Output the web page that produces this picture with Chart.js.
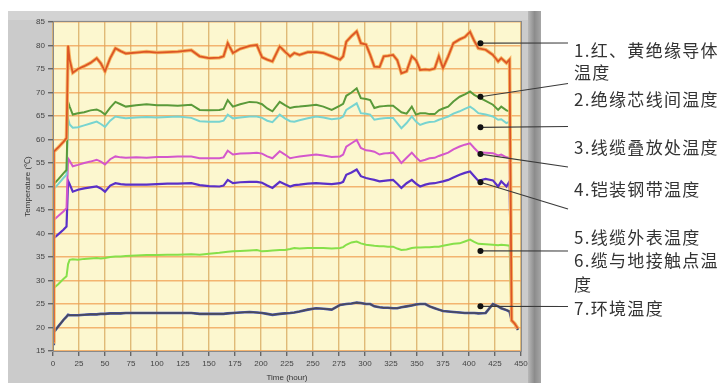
<!DOCTYPE html>
<html><head><meta charset="utf-8">
<script src="https://cdn.jsdelivr.net/npm/chart.js@4/dist/chart.umd.min.js"></script>
<style>
html,body{margin:0;padding:0;background:#fff;}
#wrap{position:relative;width:721px;height:383px;overflow:hidden;}
#c{position:absolute;left:0;top:0;}
.lbl{position:absolute;left:574px;font-family:"Noto Sans CJK SC";font-size:17px;line-height:17px;color:#333;letter-spacing:1.3px;white-space:nowrap;}
</style></head>
<body>
<div id="wrap">
<canvas id="c" width="721" height="383"></canvas>
<div class="lbl" style="top:41px">1.红、黄绝缘导体</div>
<div class="lbl" style="top:63px">温度</div>
<div class="lbl" style="top:90px">2.绝缘芯线间温度</div>
<div class="lbl" style="top:138px">3.线缆叠放处温度</div>
<div class="lbl" style="top:180px">4.铠装钢带温度</div>
<div class="lbl" style="top:228px">5.线缆外表温度</div>
<div class="lbl" style="top:251px">6.缆与地接触点温</div>
<div class="lbl" style="top:275px">度</div>
<div class="lbl" style="top:299px">7.环境温度</div>
</div>
<script>
const hours = [0,0.8,5,10,13,14.5,16,19,24,30,
 36,42,46,50,55,60,65,70,80,90,
 100,110,120,133,141,150,160,164,168,173,
 180,189,196,201,206,211,218,223,228,232,
 237,245,253,260,268,276,279,282,287,292,
 296,301,305,309,314,318,322,327,331,335,
 340,345,349,353,358,362,367,371,375,380,
 385,391,396,401,405,409,416,423,428,431,
 436,439,441,444,447];

const conductor = [17,57.4,58.3,59.5,60.3,80,77,74.2,75,75.6,
 76.3,77.3,76.2,74.5,77.3,79.4,78.8,78.3,78.5,78.7,
 78.5,78.6,78.7,79,77.7,77.3,77.4,77.7,80.5,78.4,
 79.3,79.9,80.1,77.5,77,76.6,79.8,78.7,77.7,78.4,
 78,78.6,78.6,78.4,77.7,77,77.7,80.8,82,83,
 80.5,80.2,78,75.5,75.4,77.7,77.8,78,76.9,74.1,
 74.5,77.7,76.9,74.8,74.9,74.8,75.1,77.7,75.2,77.7,
 80.5,81.3,81.8,82.9,81,79.4,79.1,78,76.6,77.3,
 76.3,77,21.5,20.8,19.8];

const coreGap = [17,50.5,51.5,52.8,53.5,68,67,65.3,65.6,65.8,
 66.2,66.4,66,65.3,66.8,68,67.5,67,67.3,67.5,
 67.3,67.3,67.2,67.4,66.3,66.2,66.3,66.5,68.4,67,
 67.5,68,67.9,67.5,66.6,66,68,67.3,66.7,66.9,
 67,67.2,67.4,67,66.3,67.2,67.6,69.3,70,70.9,
 68.8,68.6,68.4,66.7,67,67.1,67.2,67.2,66.5,65.8,
 65.5,67,65.3,65.6,65.6,65.4,65.4,66.2,66.6,67,
 68.1,69.1,69.6,70.2,69.5,69,68.2,67.4,66.3,67,
 66.2,66,21.5,20.8,19.8];

const stacked = [17,49.5,50.5,51.8,52.5,64.5,63.2,62.5,62.6,63,
 63.4,63.8,63.3,62.7,64,64.9,64.7,64.5,64.7,64.8,
 64.7,64.8,64.9,64.6,63.9,63.8,63.8,64,65.3,64.5,
 64.7,64.9,64.9,64.6,64,63.7,65.3,64.5,63.9,63.8,
 64.1,64.5,64.9,64.7,64.3,64.5,64.9,66.3,67,67.7,
 65.6,65.5,65.3,64.2,64.4,64.5,64.6,64.6,63.5,62.4,
 63.5,64.9,63.8,63.1,63.5,63.7,63.8,64.2,64.5,64.9,
 65.5,66,66.5,67,66.4,65.6,65.3,64.9,64.2,64.3,
 63.5,63.8,21.5,20.8,19.8];

const armour = [17,42.9,43.7,44.7,45.4,56,55.5,54.3,54.6,55,
 55.3,55.7,55.3,54.7,55.8,56.4,56.2,56.1,56.2,56.1,
 56.3,56.3,56.4,56.4,56,56,56,56.2,57.6,56.8,
 57,57.1,57.2,57,56.4,56,57.5,56.8,56,56.2,
 56.4,56.6,56.8,56.6,56.3,56.4,56.8,58.5,59.2,59.9,
 58.2,57.7,57.6,57.4,56.8,57,57.1,57.2,56.2,55,
 56.1,57.2,56.2,55.4,55.7,56,56.1,56.5,56.8,57.2,
 57.9,58.5,58.9,59.2,58.2,57.3,57.2,57.1,56.6,56.8,
 56.2,56.1,21.5,20.8,19.8];

const surface = [17,39,39.8,40.8,41.5,51.2,50.5,48.9,49.3,49.6,
 49.8,50,49.6,48.9,50.2,50.7,50.5,50.4,50.4,50.4,
 50.5,50.6,50.6,50.7,50.3,50.1,50,50.2,51.4,50.7,
 50.9,51,51,50.8,50.2,49.7,51,50.5,50,50.3,
 50.4,50.6,50.7,50.6,50.5,50.7,51,52.5,53,53.6,
 52.2,51.8,51.6,51.4,51.1,51.2,51.3,51.4,50.6,49.7,
 50.7,51.4,50.6,50,50.4,50.6,50.7,50.9,51.1,51.4,
 51.9,52.5,52.9,53.2,52.2,51.2,51.6,51.3,50,51.1,
 50,51.1,21.5,20.8,19.8];

const ground = [17,28.4,29.2,30.3,30.9,33.5,34.4,34.5,34.4,34.6,
 34.7,34.8,34.7,34.8,35,35.1,35.1,35.2,35.3,35.4,
 35.4,35.5,35.5,35.6,35.5,35.7,35.9,36,36.1,36.2,
 36.3,36.4,36.5,36.2,36.3,36.4,36.5,36.5,36.7,36.9,
 36.8,36.9,36.9,36.9,36.8,36.9,37.1,37.6,38.1,38.3,
 37.9,37.6,37.5,37.4,37.3,37.3,37.2,37.2,36.8,36.5,
 36.6,36.9,37,37,37.1,37.1,37.2,37.2,37.4,37.6,
 37.8,37.9,38.3,38.7,38.2,37.8,37.7,37.6,37.5,37.6,
 37.5,37.4,21.5,20.8,19.8];

const ambient = [16.5,19,20.2,21.6,22.3,22.7,22.6,22.6,22.6,22.7,
 22.8,22.8,22.9,22.9,23,23,23,23.1,23.1,23.1,
 23.1,23.1,23.1,23.1,22.9,22.9,22.9,22.9,23,23.1,
 23.2,23.3,23.2,23.1,22.9,22.7,22.9,23,23.1,23.2,
 23.4,23.8,24.1,24,23.8,24.8,24.9,25,25.1,25.3,
 25.2,25,25,24.5,24.3,24.2,24.2,24.1,24.1,24.3,
 24.5,24.7,24.9,25,25,24.5,24.1,23.8,23.5,23.4,
 23.3,23.2,23.1,23.1,23.1,23,23.1,25,24.5,24.1,
 23.7,23.4,21.5,20.8,19.5];

const xTicks = [0,25,50,75,100,125,150,175,200,225,250,275,300,325,350,375,400,425,450];
const yTicks = [15,20,25,30,35,40,45,50,55,60,65,70,75,80,85];

// callout anchor points (hour, temperature) for the 7 labels
const calloutHours = [411,411,411,411,411,411,411];
const calloutTemps = [80.5,69.1,62.6,56.9,50.9,36.3,24.5];

function pts(arr){ return hours.map((h,i)=>({x:h,y:arr[i]})); }
function ds(arr,color,w){ return {data:pts(arr),borderColor:color,borderWidth:w,pointRadius:0,tension:0,fill:false}; }

const calloutEnds = [[568,43],[568,83.5],[568,126.5],[568,167],[568,209],[568,251],[568,306.5]];

const bgPlugin = {
  id:'bg',
  beforeDraw(chart){
    const {ctx, chartArea:a} = chart;
    ctx.save();
    ctx.fillStyle='#ffffff'; ctx.fillRect(0,0,chart.width,chart.height);
    ctx.fillStyle='#cbcbcb'; ctx.fillRect(8,11,533,372);
    ctx.fillStyle='#d3d3d3'; ctx.fillRect(8,11,533,9);
    const g = ctx.createLinearGradient(528,0,541,0);
    g.addColorStop(0,'#b8b8b8'); g.addColorStop(0.5,'#8c8c8c'); g.addColorStop(1,'#a6a6a6');
    ctx.fillStyle=g; ctx.fillRect(528,11,13,372);
    ctx.fillStyle='#fcf7cf'; ctx.fillRect(a.left,a.top,a.right-a.left,a.bottom-a.top);
    ctx.restore();
  },
  afterDraw(chart){
    const {ctx, chartArea:a, scales} = chart;
    ctx.save();
    ctx.strokeStyle='#8a8a8a'; ctx.lineWidth=1;
    ctx.strokeRect(a.left+0.5,a.top-0.5,a.right-a.left,a.bottom-a.top+1);
    ctx.strokeStyle='#3a3a3a'; ctx.fillStyle='#111';
    for(let i=0;i<calloutHours.length;i++){
      const x = scales.x.getPixelForValue(calloutHours[i]);
      const y = scales.y.getPixelForValue(calloutTemps[i]);
      ctx.beginPath(); ctx.moveTo(x,y); ctx.lineTo(calloutEnds[i][0],calloutEnds[i][1]); ctx.lineWidth=1.2; ctx.stroke();
      ctx.beginPath(); ctx.arc(x,y,3,0,Math.PI*2); ctx.fill();
    }
    ctx.restore();
  }
};

// Chart.js paints the first dataset on top, so top layers come first
new Chart(document.getElementById('c'), {
  type:'line',
  data:{datasets:[
    ds(conductor,'#dc5626',1.8),
    ds(conductor,'#f7b865',3.6),
    ds(coreGap,'#5a9a3a',2),
    ds(stacked,'#78d4d0',2),
    ds(armour,'#d457cc',2),
    ds(surface,'#5a30c8',2.2),
    ds(ambient,'#4a4a58',1.6),
    ds(ambient,'#4656b8',2.6),
    ds(ground,'#86e04a',2)
  ]},
  options:{
    responsive:false, animation:false, devicePixelRatio:1,
    layout:{padding:{left:0,right:200,top:22,bottom:0}},
    plugins:{legend:{display:false},tooltip:{enabled:false}},
    scales:{
      x:{type:'linear',min:0,max:450,
        afterBuildTicks(s){ s.ticks = xTicks.map(v=>({value:v})); },
        afterFit(s){ s.height=32; },
        ticks:{font:{family:'Liberation Sans',size:8},color:'#444',padding:3,maxRotation:0,autoSkip:false},
        grid:{color:'rgba(214,165,90,0.75)',lineWidth:1.4,tickLength:5,tickColor:'#666',drawTicks:true},
        border:{display:true,color:'#888'},
        title:{display:true,text:'Time (hour)',font:{family:'Liberation Sans',size:8},color:'#333',padding:{top:0,bottom:0}}
      },
      y:{type:'linear',min:15,max:85,
        afterBuildTicks(s){ s.ticks = yTicks.map(v=>({value:v})); },
        afterFit(s){ s.width=53; },
        ticks:{font:{family:'Liberation Sans',size:8},color:'#444',padding:3,autoSkip:false},
        grid:{color:'rgba(240,158,80,0.75)',lineWidth:1.4,tickLength:5,tickColor:'#666',drawTicks:true},
        border:{display:true,color:'#888'},
        title:{display:true,text:'Temperature (℃)',font:{family:'Liberation Sans',size:8},color:'#333',padding:{top:23,bottom:0}}
      }
    }
  },
  plugins:[bgPlugin]
});
</script>
</body></html>
